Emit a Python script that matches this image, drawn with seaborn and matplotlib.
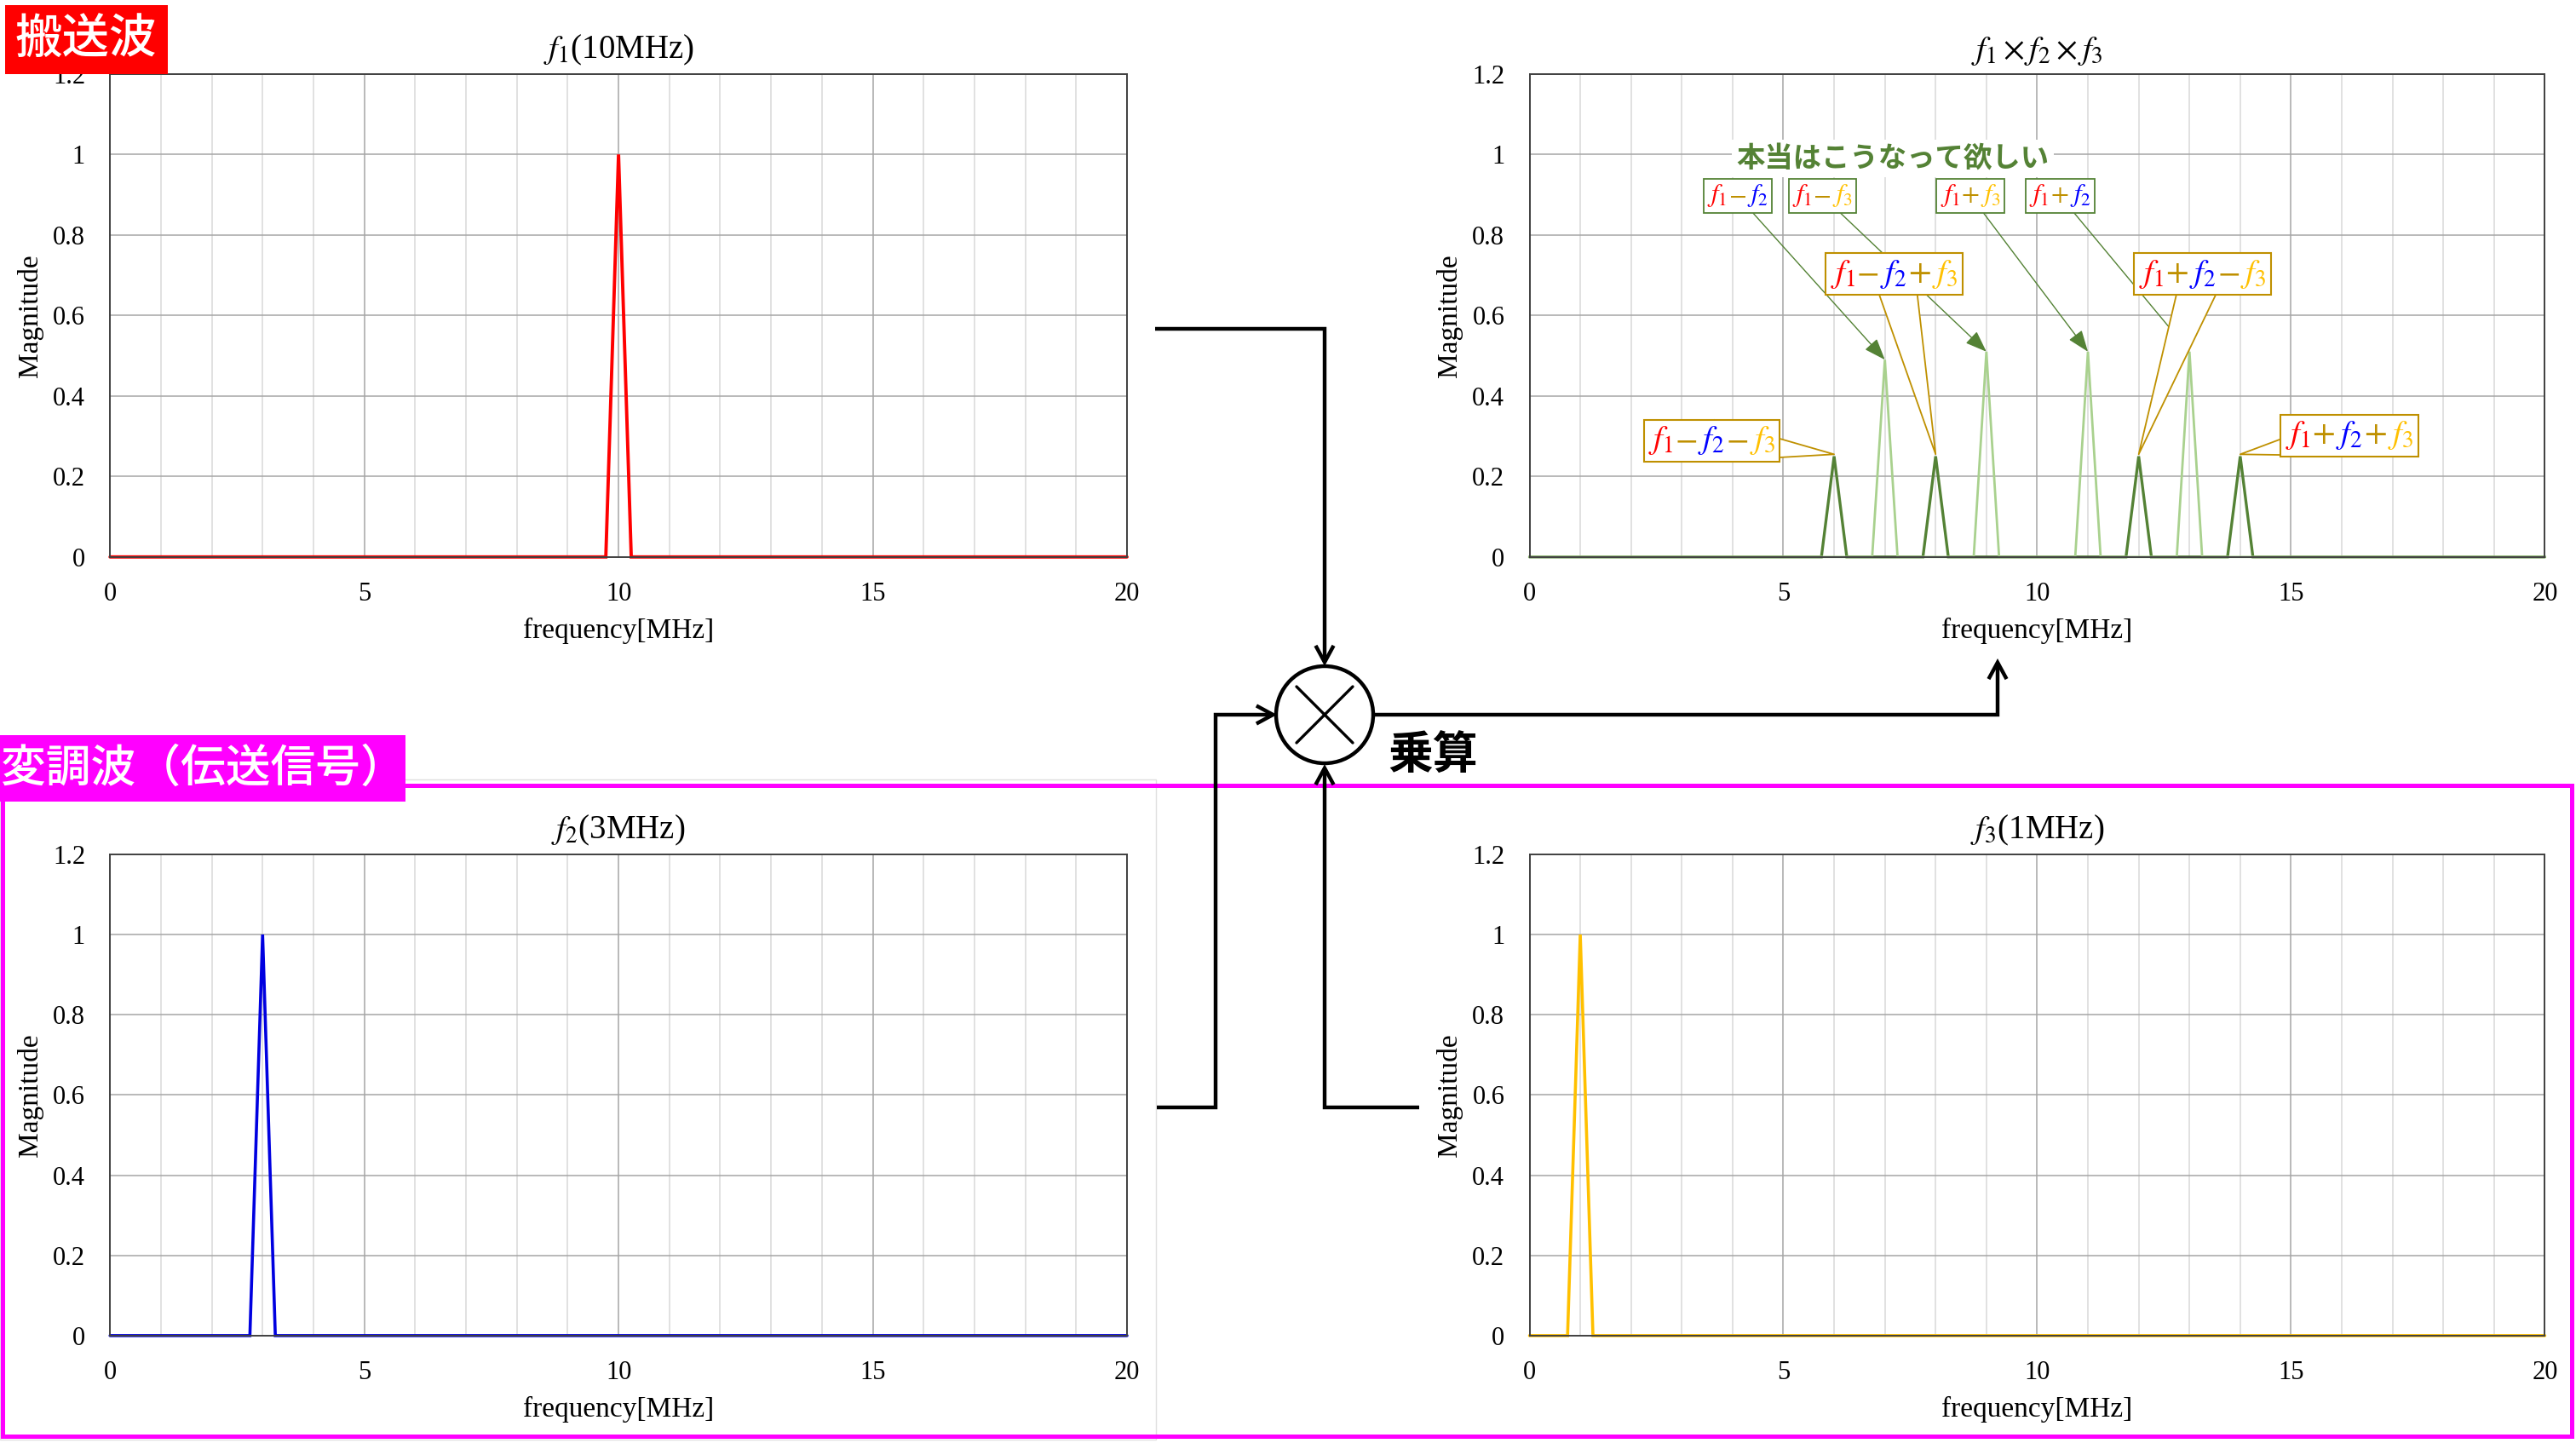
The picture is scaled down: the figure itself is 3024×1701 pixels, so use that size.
import numpy as np
import pandas as pd
import matplotlib
matplotlib.use("Agg")
import matplotlib.pyplot as plt
import seaborn as sns
from matplotlib.ticker import MultipleLocator, FuncFormatter
from matplotlib.offsetbox import TextArea, HPacker, AnnotationBbox
from matplotlib.patches import FancyArrowPatch, Ellipse, Rectangle
from matplotlib.path import Path
from matplotlib.lines import Line2D

# ---------------- data ----------------
f1_x = [0, 9.75, 10, 10.25, 20]
f1_y = [0, 0, 1, 0, 0]
f2_x = [0, 2.75, 3, 3.25, 20]
f2_y = [0, 0, 1, 0, 0]
f3_x = [0, 0.75, 1, 1.25, 20]
f3_y = [0, 0, 1, 0, 0]

mix_x = [0, 5.75, 6, 6.25, 7.75, 8, 8.25, 11.75, 12, 12.25, 13.75, 14, 14.25, 20]
mix_y = [0, 0, 0.25, 0, 0, 0.25, 0, 0, 0.25, 0, 0, 0.25, 0, 0]
ideal_x = [0, 6.75, 7, 7.25, 8.75, 9, 9.25, 10.75, 11, 11.25, 12.75, 13, 13.25, 20]
ideal_y = [0, 0, 0.49, 0, 0, 0.51, 0, 0, 0.51, 0, 0, 0.51, 0, 0]

ideal_labels = ["f1-f2", "f1-f3", "f1+f3", "f1+f2"]
ideal_peaks = [7, 9, 11, 13]
ideal_heights = [0.49, 0.51, 0.51, 0.51]
mix_labels = ["f1-f2-f3", "f1-f2+f3", "f1+f2-f3", "f1+f2+f3"]
mix_peaks = [6, 8, 12, 14]
mix_heights = [0.25, 0.25, 0.25, 0.25]

titles = [r"$f_1$(10MHz)", r"$f_1\times f_2\times f_3$", r"$f_2$(3MHz)", r"$f_3$(1MHz)"]
xlabel = "frequency[MHz]"
ylabel = "Magnitude"
ideal_title = "本当はこうなって欲しい"
carrier_label = "搬送波"
mod_label = "変調波（伝送信号）"
mult_label = "乗算"

# ---------------- style ----------------
sns.set_theme(style="white")
plt.rcParams["font.family"] = ["Liberation Serif", "DejaVu Serif"]
plt.rcParams["mathtext.fontset"] = "stix"

W, H = 3024, 1701
fig = plt.figure(figsize=(W / 100, H / 100), dpi=100)
fig.patch.set_facecolor("white")


def P(x, y):
    return (x / W, 1 - y / H)


def make_ax(x0, y0, x1, y1):
    return fig.add_axes([x0 / W, 1 - y1 / H, (x1 - x0) / W, (y1 - y0) / H])


ax_tl = make_ax(129.2, 86.8, 1323.0, 653.8)
ax_tr = make_ax(1795.5, 86.8, 2987.4, 653.8)
ax_bl = make_ax(129.2, 1002.9, 1323.0, 1567.9)
ax_br = make_ax(1795.5, 1002.9, 2987.4, 1567.9)


def style_ax(ax, title):
    ax.set_xlim(0, 20)
    ax.set_ylim(0, 1.2)
    ax.xaxis.set_major_locator(MultipleLocator(5))
    ax.xaxis.set_minor_locator(MultipleLocator(1))
    ax.yaxis.set_major_locator(MultipleLocator(0.2))
    ax.yaxis.set_major_formatter(FuncFormatter(lambda v, p: f"{v:g}"))
    ax.grid(which="major", color="#a6a6a6", lw=1.1, ls="-")
    ax.grid(which="minor", axis="x", color="#d9d9d9", lw=1.1, ls="-")
    ax.set_axisbelow(True)
    ax.tick_params(which="both", length=0, pad=21, labelsize=22, colors="black")
    ax.set_xlabel(xlabel, fontsize=24, labelpad=9, color="black")
    ax.set_ylabel(ylabel, fontsize=24, labelpad=8, color="black")
    ax.set_title(title, fontsize=28, pad=13, color="black")
    for s in ax.spines.values():
        s.set_color("#404040")
        s.set_linewidth(1.4)
        s.set_visible(True)
    ax.set_facecolor("white")


def draw_line(ax, xs, ys, color, lw):
    df = pd.DataFrame({"x": xs, "y": ys})
    n0 = len(ax.lines)
    sns.lineplot(data=df, x="x", y="y", ax=ax, color=color, linewidth=lw,
                 sort=False, estimator=None)
    for ln in ax.lines[n0:]:
        ln.set_clip_on(False)
        ln.set_solid_joinstyle("miter")


draw_line(ax_tl, f1_x, f1_y, "#ff0000", 2.8)
draw_line(ax_bl, f2_x, f2_y, "#0000e0", 2.6)
draw_line(ax_br, f3_x, f3_y, "#ffc000", 2.6)
draw_line(ax_tr, mix_x, mix_y, "#548235", 2.4)
draw_line(ax_tr, ideal_x, ideal_y, "#a9d18e", 2.0)

for ax, t in zip([ax_tl, ax_tr, ax_bl, ax_br], titles):
    style_ax(ax, t)

# ---------------- annotations in product chart ----------------
part_colors = {"f1": "#ff0000", "f2": "#0000ff", "f3": "#ffc000"}
op_color = "#bf9000"


def label_box(label, size):
    parts = []
    i = 0
    while i < len(label):
        if label[i] == "f":
            tok = label[i:i + 2]
            parts.append((r"$f_%s$" % tok[1], part_colors[tok]))
            i += 2
        else:
            op = "-" if label[i] == "-" else "+"
            parts.append((r"$%s$" % op, op_color))
            i += 1
    children = [TextArea(s, textprops=dict(color=c, fontsize=size,
                                           math_fontfamily="stix"))
                for s, c in parts]
    return HPacker(children=children, align="baseline", pad=0, sep=1)


small_pos = [(4.10, 0.897), (5.77, 0.897), (8.69, 0.897), (10.45, 0.897)]
for lab, fx, fy, pos in zip(ideal_labels, ideal_peaks, ideal_heights, small_pos):
    ab = AnnotationBbox(label_box(lab, 22), xy=(fx, fy), xybox=pos,
                        xycoords="data", boxcoords="data", fontsize=10, pad=0.3,
                        bboxprops=dict(edgecolor="#548235", facecolor="white", lw=1.3),
                        arrowprops=dict(arrowstyle="-|>,head_length=0.8,head_width=0.3",
                                        color="#548235", lw=1.0, shrinkA=0, shrinkB=0,
                                        mutation_scale=14),
                        zorder=6)
    ax_tr.add_artist(ab)

big_pos = [(3.59, 0.289), (7.18, 0.703), (13.26, 0.703), (16.15, 0.302)]
for lab, fx, fy, pos in zip(mix_labels, mix_peaks, mix_heights, big_pos):
    ab = AnnotationBbox(label_box(lab, 28), xy=(fx, fy + 0.005), xybox=pos,
                        xycoords="data", boxcoords="data", fontsize=10, pad=0.4,
                        bboxprops=dict(edgecolor="#bf9000", facecolor="white", lw=1.5),
                        arrowprops=dict(arrowstyle="wedge,tail_width=0.85,shrink_factor=0.5",
                                        facecolor="white", edgecolor="#bf9000", lw=1.3,
                                        shrinkA=0, shrinkB=0, mutation_scale=30,
                                        patchA=None),
                        zorder=7)
    ax_tr.add_artist(ab)

ax_tr.text(7.16, 0.99, ideal_title, color="#548235", fontsize=24, fontweight="bold",
           family=["Noto Sans CJK JP", "DejaVu Sans"], ha="center", va="center",
           zorder=5, bbox=dict(facecolor="white", edgecolor="none", pad=4))

# ---------------- flow diagram ----------------
LW = 3.2


def flow(points, arrow=True):
    verts = [P(x, y) for x, y in points]
    codes = [Path.MOVETO] + [Path.LINETO] * (len(verts) - 1)
    style = "->,head_length=0.7,head_width=0.38" if arrow else "-"
    fa = FancyArrowPatch(path=Path(verts, codes), arrowstyle=style, mutation_scale=20,
                         lw=LW, color="black", transform=fig.transFigure,
                         joinstyle="miter", capstyle="butt", zorder=8)
    fig.add_artist(fa)


# magenta frame and faint chart-area border
fig.add_artist(Rectangle(P(0, 1690), 1357 / W, (1690 - 915) / H, transform=fig.transFigure,
                         fill=False, edgecolor="#e0e0e0", lw=1, zorder=1))
fig.add_artist(Rectangle(P(3, 1686), (3019 - 3) / W, (1686 - 922) / H, transform=fig.transFigure,
                         fill=False, edgecolor="#ff00ff", lw=3.6, zorder=2))

flow([(1356, 386), (1555, 386), (1555, 782)])
flow([(1613, 839), (2345, 839), (2345, 773)])
flow([(1358, 1300), (1427, 1300), (1427, 839), (1499, 839)])
flow([(1666, 1300), (1555, 1300), (1555, 897)])

fig.add_artist(Ellipse(P(1555, 839), 114 / W, 114 / H, transform=fig.transFigure,
                       fill=True, facecolor="white", edgecolor="black", lw=3.2, zorder=9))
for (xa, ya), (xb, yb) in [((1522, 806), (1588, 872)), ((1522, 872), (1588, 806))]:
    (fx0, fy0), (fx1, fy1) = P(xa, ya), P(xb, yb)
    fig.add_artist(Line2D([fx0, fx1], [fy0, fy1], transform=fig.transFigure,
                          color="black", lw=2.4, zorder=10))

fig.text(*P(1682, 887), mult_label, fontsize=38, fontweight="bold", color="black",
         family=["Noto Sans CJK JP", "DejaVu Sans"], ha="center", va="center", zorder=10)

# section labels
fig.add_artist(Rectangle(P(6, 87), (197 - 6) / W, (87 - 6) / H, transform=fig.transFigure,
                         facecolor="#ff0000", edgecolor="none", zorder=11))
fig.text(*P(101, 47), carrier_label, fontsize=40, color="white", fontweight="medium",
         family=["Noto Sans CJK JP", "DejaVu Sans"], ha="center", va="center", zorder=12)

fig.add_artist(Rectangle(P(0, 941), 476 / W, (941 - 863) / H, transform=fig.transFigure,
                         facecolor="#ff00ff", edgecolor="none", zorder=11))
fig.text(*P(238, 903), mod_label, fontsize=38, color="white", fontweight="medium",
         family=["Noto Sans CJK JP", "DejaVu Sans"], ha="center", va="center", zorder=12)

fig.savefig("out.png", dpi=100, facecolor="white")
